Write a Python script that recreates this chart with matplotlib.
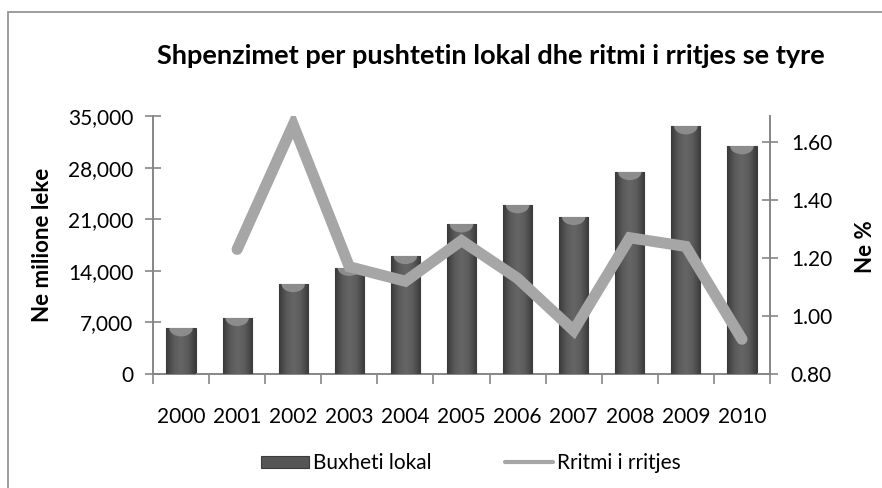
import numpy as np
import matplotlib
matplotlib.use("Agg")
import matplotlib.pyplot as plt
from matplotlib.patches import Rectangle, Ellipse
from matplotlib.ticker import FuncFormatter, FixedLocator
from matplotlib.colors import LinearSegmentedColormap

plt.rcParams['font.family'] = ['Lato', 'DejaVu Sans']

years = ['2000', '2001', '2002', '2003', '2004', '2005',
         '2006', '2007', '2008', '2009', '2010']
buxheti = [6200, 7600, 12200, 14400, 16000, 20300,
           22900, 21300, 27400, 33600, 30900]
rritmi = [np.nan, 1.23, 1.66, 1.17, 1.12, 1.26,
          1.13, 0.95, 1.27, 1.24, 0.92]

axis_col = '#868686'
fs = 15

fig = plt.figure(figsize=(8.82, 4.88), dpi=100)
# outer chart border (right/bottom edges fall outside the picture)
fig.patches.append(Rectangle((8 / 882, -0.05), 1.0, 1 - 12 / 488 + 0.05,
                             transform=fig.transFigure, fill=False,
                             edgecolor='#8c8c8c', linewidth=1.2))

ax = fig.add_axes([153 / 882, 114 / 488, (770 - 153) / 882, (374 - 116) / 488])
x = np.arange(len(years))
bars = ax.bar(x, buxheti, width=0.52, color='#555555', edgecolor='#3c3c3c',
              linewidth=0.8, zorder=2, label='Buxheti lokal')

# cylinder-like shading on each bar
cmap = LinearSegmentedColormap.from_list(
    'cyl', ['#3a3a3a', '#5a5a5a', '#666666', '#5a5a5a', '#3a3a3a'])
grad = np.linspace(0, 1, 64).reshape(1, -1)
for b in bars:
    bx, bw, bh = b.get_x(), b.get_width(), b.get_height()
    im = ax.imshow(grad, cmap=cmap, aspect='auto', zorder=3,
                   extent=[bx, bx + bw, 0, bh], interpolation='bicubic')
    im.set_clip_path(b)
    cap = Ellipse((bx + bw / 2, bh), bw * 0.8, 2200, color='#8c8c8c',
                  zorder=4, linewidth=0)
    ax.add_patch(cap)
    cap.set_clip_path(b)

ax.set_xlim(-0.5, len(years) - 0.5)
ax.set_ylim(0, 35000)
ax.set_yticks(np.arange(0, 35001, 7000))
ax.yaxis.set_major_formatter(FuncFormatter(lambda v, p: f'{int(v):,}'))
ax.set_xticks(x)
ax.set_xticklabels(years)
ax.xaxis.set_minor_locator(FixedLocator(np.arange(-0.5, len(years), 1.0)))
ax.tick_params(axis='x', which='major', length=0, pad=24, labelsize=fs)
ax.tick_params(axis='x', which='minor', length=7, color=axis_col, width=1.2)
ax.tick_params(axis='y', direction='inout', length=12, color=axis_col,
               width=1.2, labelsize=fs, pad=8)
for s in ['top', 'right']:
    ax.spines[s].set_visible(False)
for s in ['left', 'bottom']:
    ax.spines[s].set_color(axis_col)
    ax.spines[s].set_linewidth(1.4)

ax2 = ax.twinx()
ax2.plot(x, rritmi, color='#a6a6a6', linewidth=8, solid_capstyle='round',
         solid_joinstyle='miter', label='Rritmi i rritjes', zorder=5)
ax2.set_ylim(0.8, 1.69)
ax2.set_yticks([0.8, 1.0, 1.2, 1.4, 1.6])
ax2.yaxis.set_major_formatter(FuncFormatter(lambda v, p: f'{v:.2f}'))
ax2.tick_params(axis='y', direction='inout', length=12, color=axis_col,
                width=1.2, labelsize=fs, pad=9)
for s in ['top', 'left', 'bottom']:
    ax2.spines[s].set_visible(False)
ax2.spines['right'].set_color(axis_col)
ax2.spines['right'].set_linewidth(1.4)

fig.text(491 / 882, 1 - 56 / 488,
         'Shpenzimet per pushtetin lokal dhe ritmi i rritjes se tyre',
         ha='center', va='center', fontsize=19.5, fontweight='bold')
fig.text(43 / 882, 1 - 245 / 488, 'Ne milione leke', rotation=90,
         ha='center', va='center', fontsize=16, fontweight='bold')
fig.text(866 / 882, 1 - 247 / 488, 'Ne %', rotation=90,
         ha='center', va='center', fontsize=16, fontweight='bold')

h1, l1 = ax.get_legend_handles_labels()
h2, l2 = ax2.get_legend_handles_labels()
leg = fig.legend(h1 + h2, l1 + l2, loc='center', ncol=2,
                 bbox_to_anchor=(471 / 882, 1 - 463 / 488), frameon=False,
                 fontsize=fs, handlelength=2.3, handleheight=0.5,
                 handletextpad=0.2, columnspacing=3.5)
leg.legend_handles[1].set_linewidth(3)

fig.savefig('out.png', dpi=100)
